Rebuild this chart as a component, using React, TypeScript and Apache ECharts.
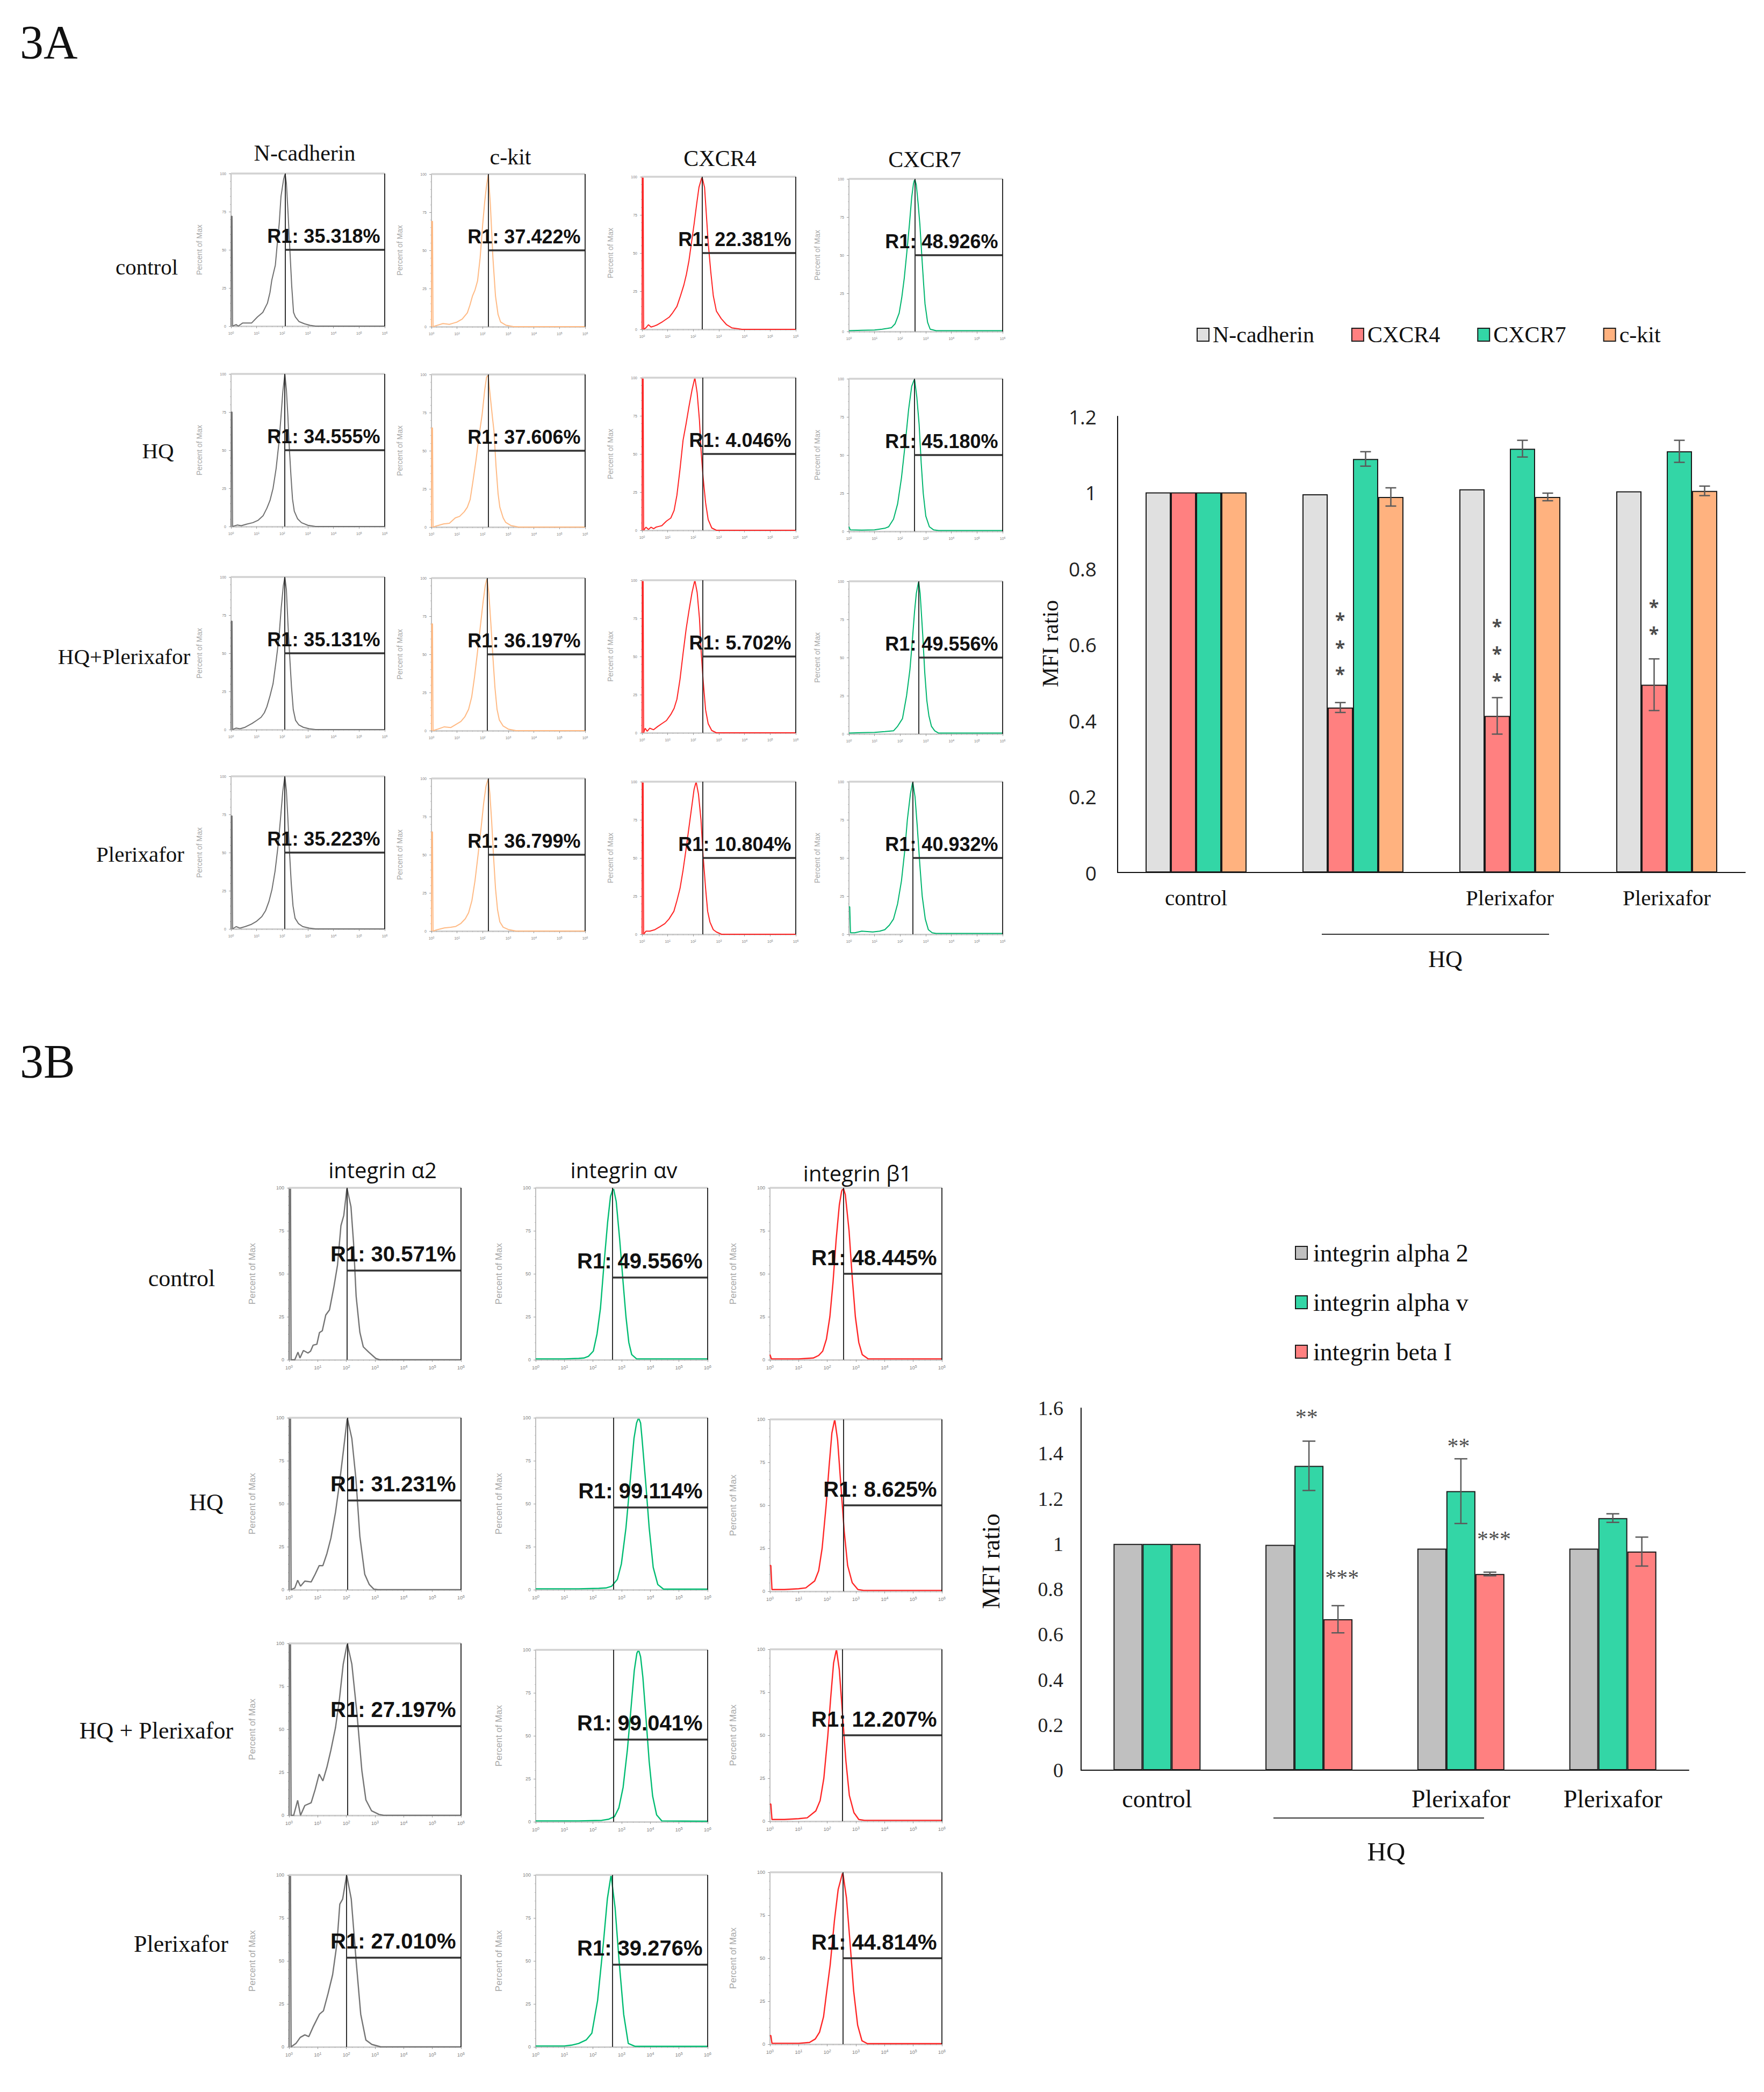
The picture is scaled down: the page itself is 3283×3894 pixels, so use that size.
import React, { useEffect, useRef } from 'react';
import * as echarts from 'echarts';

const PAGE_W = 3283;
const PAGE_H = 3894;

// ======================= DATA : Figure 3A histograms =======================
const markersA = ['N-cadherin', 'c-kit', 'CXCR4', 'CXCR7'];
const conditionsA = ['control', 'HQ', 'HQ+Plerixafor', 'Plerixafor'];

// [log10 decade, percent of max]
const ncadControl = [[0,0],[0.01,72],[0.04,72],[0.06,0],[0.2,1],[0.28,0],[0.45,2],[0.8,2],[1.03,6],[1.24,9],[1.42,15],[1.52,22],[1.59,30],[1.66,35],[1.73,40],[1.8,53],[1.88,67],[1.95,85],[2.05,96],[2.11,100],[2.16,94],[2.23,73],[2.3,49],[2.37,26],[2.44,9],[2.51,6],[2.65,3],[2.87,1.5],[3.08,0.5],[3.3,0],[6,0]];
const ncadHQ = [[0,0],[0.01,75],[0.04,75],[0.06,0],[0.25,1],[0.4,0.5],[0.6,1.5],[0.85,2.5],[1.05,4],[1.25,7],[1.4,12],[1.52,17],[1.64,25],[1.76,38],[1.87,55],[1.95,72],[2.02,88],[2.1,100],[2.16,90],[2.22,72],[2.28,50],[2.34,33],[2.4,18],[2.47,10],[2.6,5],[2.75,2.5],[3.0,0.8],[3.3,0],[6,0]];
const ncadHQP = [[0,0],[0.01,71],[0.04,71],[0.06,0],[0.2,1],[0.35,0.5],[0.55,1.5],[0.82,4],[1.0,6],[1.17,8],[1.3,11],[1.4,15],[1.52,22],[1.64,30],[1.76,45],[1.87,60],[1.96,80],[2.04,94],[2.1,100],[2.16,92],[2.22,70],[2.3,45],[2.36,28],[2.43,13],[2.52,6],[2.65,3],[2.82,1.5],[3.05,0.5],[3.3,0],[6,0]];
const ncadPlx = [[0,0],[0.01,74],[0.04,74],[0.06,0],[0.2,1.5],[0.35,0.5],[0.55,1.5],[0.8,3],[1.0,5],[1.2,8],[1.35,12],[1.48,18],[1.6,26],[1.72,38],[1.84,55],[1.93,72],[2.02,90],[2.1,100],[2.16,91],[2.22,72],[2.29,48],[2.35,30],[2.42,15],[2.5,7],[2.63,3.5],[2.8,1.5],[3.05,0.5],[3.3,0],[6,0]];

const kitControl = [[0,0],[0.01,69],[0.04,69],[0.06,0],[0.25,1],[0.45,2],[0.7,1.5],[0.9,2.5],[1.0,3],[1.2,5],[1.4,9],[1.5,14],[1.6,20],[1.7,24],[1.8,30],[1.9,45],[2.0,67],[2.08,82],[2.14,91],[2.22,100],[2.3,80],[2.4,45],[2.5,20],[2.6,8],[2.7,3],[2.9,1],[3.2,0],[6,0]];
const kitHQ = [[0,0],[0.01,65],[0.04,65],[0.06,0],[0.25,1],[0.47,2],[0.7,2.5],[0.93,6],[1.1,7],[1.28,10],[1.4,13],[1.51,18],[1.62,30],[1.74,44],[1.86,60],[1.98,74],[2.08,90],[2.15,98],[2.21,100],[2.3,85],[2.38,72],[2.44,63],[2.52,40],[2.6,22],[2.67,13],[2.8,6],[2.9,3],[3.1,1],[3.4,0],[6,0]];
const kitHQP = [[0,0],[0.01,70],[0.04,70],[0.06,0],[0.25,1],[0.5,2.5],[0.75,2],[0.95,4],[1.15,6],[1.3,9],[1.45,14],[1.57,22],[1.68,35],[1.8,52],[1.92,70],[2.02,85],[2.1,95],[2.17,100],[2.24,90],[2.32,70],[2.4,48],[2.48,28],[2.56,14],[2.65,7],[2.8,3],[3.0,1],[3.3,0],[6,0]];
const kitPlx = [[0,0],[0.01,65],[0.04,65],[0.06,0],[0.25,1],[0.5,2],[0.75,2.5],[0.95,3],[1.15,5],[1.32,8],[1.45,12],[1.58,20],[1.7,33],[1.82,50],[1.94,68],[2.04,84],[2.13,95],[2.22,100],[2.28,90],[2.35,72],[2.42,50],[2.5,28],[2.58,14],[2.67,6],[2.8,2.5],[3.0,1],[3.3,0],[6,0]];

const cxcr4Control = [[0,0],[0.01,100],[0.04,100],[0.06,0],[0.15,1],[0.25,3],[0.35,1.5],[0.45,2],[0.6,3],[0.8,5],[1.06,8],[1.2,11],[1.36,15],[1.5,22],[1.63,29],[1.73,36],[1.83,45],[1.93,57],[2.03,69],[2.13,82],[2.22,93],[2.34,100],[2.44,93],[2.51,75],[2.58,57],[2.68,38],[2.78,22],[2.9,12],[3.09,7],[3.3,3],[3.5,1],[3.9,0],[6,0]];
const cxcr4HQ = [[0,0],[0.01,100],[0.04,100],[0.06,0],[0.15,2],[0.25,0.5],[0.35,2],[0.45,1],[0.54,2],[0.65,2.5],[0.77,3],[0.95,6],[1.12,8],[1.25,13],[1.36,23],[1.48,40],[1.6,59],[1.72,70],[1.83,81],[1.95,92],[2.06,100],[2.15,90],[2.24,72],[2.3,53],[2.38,35],[2.48,18],[2.58,7],[2.72,1.5],[2.9,0],[6,0]];
const cxcr4HQP = [[0,0],[0.01,100],[0.04,100],[0.06,0],[0.12,3],[0.2,1],[0.3,3],[0.45,2],[0.6,4],[0.77,6],[0.95,8],[1.12,12],[1.25,16],[1.36,22],[1.48,35],[1.6,52],[1.72,68],[1.83,80],[1.95,92],[2.06,100],[2.15,92],[2.24,75],[2.3,55],[2.38,35],[2.48,15],[2.58,6],[2.72,1.5],[2.9,0],[6,0]];
const cxcr4Plx = [[0,0],[0.01,100],[0.04,100],[0.06,0],[0.15,2],[0.3,2],[0.5,3],[0.7,5],[0.89,7],[1.05,10],[1.24,15],[1.36,22],[1.48,30],[1.6,42],[1.71,55],[1.83,70],[1.95,85],[2.03,95],[2.11,100],[2.2,92],[2.3,75],[2.38,52],[2.48,30],[2.56,15],[2.65,8],[2.78,3],[2.9,1.5],[3.1,0],[6,0]];

const cxcr7Control = [[0,0.5],[0.5,0.8],[1.0,1],[1.3,1.5],[1.5,2],[1.66,2.5],[1.8,5],[1.96,12],[2.06,22],[2.16,35],[2.26,52],[2.36,70],[2.45,88],[2.52,97],[2.57,100],[2.63,96],[2.7,84],[2.77,70],[2.85,48],[2.92,30],[2.97,18],[3.07,6],[3.17,1.5],[3.4,0.5],[6,0.5]];
const cxcr7HQ = [[0,3],[0.05,1],[0.5,0.8],[1.0,1],[1.2,1.5],[1.4,2],[1.55,3],[1.74,8],[1.9,18],[2.05,35],[2.2,58],[2.33,80],[2.45,95],[2.56,100],[2.65,88],[2.74,70],[2.82,45],[2.9,25],[3.0,10],[3.14,3],[3.3,1],[3.5,0.5],[6,0.5]];
const cxcr7HQP = [[0,0.5],[0.5,0.8],[1.0,1],[1.4,1.5],[1.74,2],[1.9,5],[2.09,10],[2.25,25],[2.38,42],[2.47,60],[2.56,80],[2.63,92],[2.72,100],[2.78,92],[2.88,65],[2.96,40],[3.04,22],[3.12,12],[3.22,5],[3.35,2],[3.5,0.5],[6,0.5]];
const cxcr7Plx = [[0,18],[0.03,18],[0.06,1],[0.23,1],[0.5,2],[0.93,1.5],[1.2,2],[1.4,3],[1.58,6],[1.74,10],[1.9,20],[2.05,35],[2.18,55],[2.28,75],[2.4,92],[2.49,100],[2.58,90],[2.67,70],[2.77,45],[2.86,25],[2.98,10],[3.1,3],[3.25,1],[3.4,0.5],[6,0.5]];

const histA = [
  [ncadControl, kitControl, cxcr4Control, cxcr7Control],
  [ncadHQ, kitHQ, cxcr4HQ, cxcr7HQ],
  [ncadHQP, kitHQP, cxcr4HQP, cxcr7HQP],
  [ncadPlx, kitPlx, cxcr4Plx, cxcr7Plx],
];
const gateStartA = [[2.11, 2.22, 2.34, 2.57], [2.10, 2.21, 2.37, 2.56], [2.10, 2.17, 2.37, 2.72], [2.10, 2.22, 2.37, 2.49]];
const gateLevelA = [50, 50, 50, 50];
const r1A = [
  ['35.318', '37.422', '22.381', '48.926'],
  ['34.555', '37.606', '4.046', '45.180'],
  ['35.131', '36.197', '5.702', '49.556'],
  ['35.223', '36.799', '10.804', '40.932'],
];

// ======================= DATA : Figure 3A bar chart =======================
const barGroupsA = ['control', 'HQ', 'HQ+Plerixafor', 'Plerixafor'];
const barTickLabelsA = ['control', '', 'Plerixafor', 'Plerixafor'];
const barSeriesA = ['N-cadherin', 'CXCR4', 'CXCR7', 'c-kit'];
const ncadMFI = [1, 0.995, 1.008, 1.003];
const cxcr4MFI = [1, 0.434, 0.412, 0.494];
const cxcr7MFI = [1, 1.088, 1.115, 1.108];
const kitMFI = [1, 0.988, 0.988, 1.004];
const ncadErr = [0, 0, 0, 0];
const cxcr4Err = [0, 0.013, 0.048, 0.068];
const cxcr7Err = [0, 0.019, 0.022, 0.029];
const kitErr = [0, 0.024, 0.010, 0.0125];
const valsA = [ncadMFI, cxcr4MFI, cxcr7MFI, kitMFI];
const errsA = [ncadErr, cxcr4Err, cxcr7Err, kitErr];
// asterisks above CXCR4 bars: [group index, y value]
const starsA = [[1, 0.676], [1, 0.603], [1, 0.533], [2, 0.659], [2, 0.587], [2, 0.516], [3, 0.710], [3, 0.639]];

// ======================= DATA : Figure 3B histograms =======================
const markersB = ['integrin α2', 'integrin αv', 'integrin β1'];
const conditionsB = ['control', 'HQ', 'HQ + Plerixafor', 'Plerixafor'];

const a2Control = [[0,0],[0.01,100],[0.05,100],[0.07,0],[0.2,0],[0.31,4.4],[0.38,1],[0.5,5.4],[0.66,3.9],[0.75,5],[0.84,8.5],[0.97,9],[1.06,15.8],[1.16,16.9],[1.28,26],[1.41,29],[1.56,42],[1.69,55],[1.81,78],[1.91,84],[2.02,100],[2.16,89],[2.25,68],[2.34,37],[2.47,16],[2.59,7.5],[2.78,4.4],[3.03,0.7],[3.16,0],[6,0]];
const a2HQ = [[0,0],[0.01,100],[0.05,100],[0.07,0],[0.2,1],[0.3,5.5],[0.4,2],[0.55,5],[0.77,4.5],[0.91,9],[1.05,14],[1.18,14],[1.32,21],[1.46,30],[1.62,45],[1.76,62],[1.89,80],[2.03,100],[2.19,88],[2.33,65],[2.47,31],[2.64,9],[2.8,3],[2.96,0.3],[3.1,0],[6,0]];
const a2HQP = [[0,0],[0.01,100],[0.05,100],[0.07,0],[0.16,0],[0.3,8.7],[0.4,0],[0.55,5.7],[0.77,7.3],[0.91,15],[1.05,24],[1.18,20],[1.32,28],[1.46,38],[1.62,51],[1.76,68],[1.89,88],[2.03,100],[2.19,88],[2.37,59],[2.54,26],[2.68,9],[2.88,2.6],[3.14,0.5],[3.3,0],[6,0]];
const a2Plx = [[0,0],[0.01,100],[0.05,100],[0.07,0],[0.24,2],[0.39,5.5],[0.55,7],[0.69,6],[0.85,12],[1.06,19],[1.2,21],[1.36,31],[1.52,42],[1.67,60],[1.77,83],[1.87,86],[2.01,100],[2.17,86],[2.34,50],[2.5,19],[2.68,4],[2.89,1.4],[3.2,0],[6,0]];

const avControl = [[0,0.5],[1.0,0.5],[1.5,0.8],[1.68,1],[1.84,2],[2.01,5],[2.14,15],[2.26,30],[2.38,55],[2.51,80],[2.61,95],[2.71,100],[2.81,92],[2.93,70],[3.05,45],[3.15,25],[3.25,10],[3.35,3],[3.52,0.5],[6,0.5]];
const avHQ = [[0,0.5],[1.5,0.5],[2.2,0.8],[2.45,1],[2.65,2],[2.85,6],[2.99,15],[3.15,36],[3.29,62],[3.43,88],[3.52,97],[3.59,100],[3.66,97],[3.71,88],[3.84,62],[3.96,36],[4.1,13],[4.26,3],[4.46,0.3],[6,0.3]];
const avHQP = [[0,0.5],[1.5,0.5],[2.3,0.8],[2.55,1.5],[2.75,3],[2.9,8],[3.05,20],[3.2,42],[3.32,65],[3.44,88],[3.53,98],[3.59,100],[3.66,96],[3.74,84],[3.85,60],[3.96,35],[4.08,15],[4.22,4],[4.4,0.5],[6,0.3]];
const avPlx = [[0,0.5],[1.0,0.5],[1.25,1],[1.5,2],[1.76,4],[1.96,8],[2.16,27],[2.36,60],[2.5,86],[2.63,100],[2.77,81],[2.91,50],[3.07,19],[3.23,2],[3.47,0.3],[6,0.3]];

const b1Control = [[0,3],[0.05,0.5],[1.0,0.5],[1.3,0.8],[1.51,1],[1.7,2.5],[1.84,5],[1.97,12],[2.09,25],[2.2,45],[2.31,70],[2.42,90],[2.5,98],[2.56,100],[2.63,96],[2.76,75],[2.87,48],[2.98,25],[3.1,10],[3.22,3],[3.43,0.5],[6,0.5]];
const b1HQ = [[0,15],[0.03,15],[0.07,1],[0.5,1],[1.0,1.5],[1.25,2],[1.56,6],[1.7,12],[1.82,25],[1.96,50],[2.06,72],[2.16,92],[2.26,100],[2.36,88],[2.46,65],[2.59,35],[2.71,15],[2.87,5],[3.07,1],[3.27,0.5],[6,0.5]];
const b1HQP = [[0,10],[0.03,10],[0.07,1],[0.5,1],[1.0,1.5],[1.3,2],[1.6,6],[1.75,12],[1.88,25],[2.02,50],[2.12,72],[2.22,92],[2.32,100],[2.42,88],[2.52,65],[2.65,35],[2.77,15],[2.93,5],[3.1,1],[3.3,0.5],[6,0.5]];
const b1Plx = [[0,5],[0.03,5],[0.07,0.5],[1.0,0.5],[1.38,1],[1.58,3],[1.73,7],[1.87,16],[1.96,28],[2.1,46],[2.25,72],[2.38,90],[2.54,100],[2.67,85],[2.79,60],[2.92,31],[3.06,11],[3.21,2],[3.4,0.3],[6,0.3]];

const histB = [
  [a2Control, avControl, b1Control],
  [a2HQ, avHQ, b1HQ],
  [a2HQP, avHQP, b1HQP],
  [a2Plx, avPlx, b1Plx],
];
const gateStartB = [[2.02, 2.68, 2.56], [2.03, 2.71, 2.57], [2.03, 2.71, 2.53], [2.01, 2.67, 2.54]];
const gateLevelB = [52, 48, 50];
const r1B = [
  ['30.571', '49.556', '48.445'],
  ['31.231', '99.114', '8.625'],
  ['27.197', '99.041', '12.207'],
  ['27.010', '39.276', '44.814'],
];

// ======================= DATA : Figure 3B bar chart =======================
const barGroupsB = ['control', 'HQ', 'HQ + Plerixafor', 'Plerixafor'];
const barTickLabelsB = ['control', '', 'Plerixafor', 'Plerixafor'];
const barSeriesB = ['integrin alpha 2', 'integrin alpha v', 'integrin beta I'];
const alpha2MFI = [1, 0.996, 0.979, 0.979];
const alphaVMFI = [1, 1.345, 1.233, 1.114];
const beta1MFI = [1, 0.667, 0.867, 0.966];
const alpha2Err = [0, 0, 0, 0];
const alphaVErr = [0, 0.109, 0.143, 0.019];
const beta1Err = [0, 0.06, 0.008, 0.064];
const valsB = [alpha2MFI, alphaVMFI, beta1MFI];
const errsB = [alpha2Err, alphaVErr, beta1Err];
const starsBGreen = [[1, 1.577], [2, 1.449]];
const starsBRed = [[1, 0.867], [2, 1.038]];

// ======================= LAYOUT / STYLE =======================
const HIST_A_LEFT = [430, 803, 1195, 1580];
const HIST_A_TOP = [[323, 324, 329, 333], [696, 697, 703, 705], [1074, 1076, 1080, 1082], [1445, 1449, 1455, 1455]];
const HIST_A_W = 286;
const HIST_A_H = 284;
const HIST_B_LEFT = [538, 997, 1433];
const HIST_B_TOP = [[2211, 2211, 2211], [2639, 2639, 2642], [3059, 3071, 3070], [3490, 3490, 3485]];
const HIST_B_W = 320;
const HIST_B_H = 320;

const HIST_COLORS_A = ['#707070', '#FFBA84', '#FF2424', '#00B56E'];
const HIST_COLORS_B = ['#747474', '#00BC72', '#FF2626'];
const BAR_COLORS_A = ['#E0E0E0', '#FF8080', '#33D6A6', '#FFB27F'];
const BAR_COLORS_B = ['#C0C0C0', '#33D6A6', '#FF8080'];

const styleA = { lw: 2, tick: 7, nameFont: 14, nameGap: 52, r1Font: 36, r1Off: [-8, -7], xMargin: 9, yMargin: 9 };
const styleB = { lw: 2.4, tick: 9, nameFont: 17, nameGap: 60, r1Font: 40, r1Off: [-9, -10], xMargin: 9, yMargin: 9 };

const SERIF = 'Liberation Serif';
const SANS = 'Liberation Sans';
const CAL = 'Open Sans';

function buildOption() {
  const grid: any[] = [];
  const xAxis: any[] = [];
  const yAxis: any[] = [];
  const series: any[] = [];
  const elements: any[] = [];

  const addHist = (st: any, left: number, top: number, w: number, h: number, data: number[][], color: string, gx: number, gy: number, r1: string) => {
    const i = grid.length;
    grid.push({ left, top, width: w, height: h });
    xAxis.push({
      gridIndex: i, type: 'value', min: 0, max: 6, interval: 1,
      axisLine: { show: true, onZero: false, lineStyle: { color: '#cdcdcd', width: 3 } },
      axisTick: { show: true, length: 4, lineStyle: { color: '#9a9a9a', width: 1 } },
      minorTick: { show: true, splitNumber: 5, length: 2, lineStyle: { color: '#b5b5b5', width: 1 } },
      splitLine: { show: false },
      axisLabel: {
        margin: st.xMargin,
        formatter: (v: number) => `{a|10}{b|${v}}`,
        rich: {
          a: { fontSize: st.tick, color: '#808080', fontFamily: SANS },
          b: { fontSize: st.tick - 2, color: '#808080', fontFamily: SANS, padding: [0, 0, Math.round(st.tick / 2), 0] },
        },
      },
    });
    yAxis.push({
      gridIndex: i, type: 'value', min: 0, max: 100, interval: 25,
      name: 'Percent of Max', nameLocation: 'middle', nameGap: st.nameGap,
      nameTextStyle: { fontSize: st.nameFont, color: '#a8a8a8', fontFamily: SANS },
      axisLine: { show: true, lineStyle: { color: '#a8a8a8', width: 1.5 } },
      axisTick: { show: true, length: 4, lineStyle: { color: '#9a9a9a', width: 1 } },
      minorTick: { show: true, splitNumber: 5, length: 2, lineStyle: { color: '#b5b5b5', width: 1 } },
      splitLine: { show: false },
      axisLabel: { margin: st.yMargin, fontSize: st.tick, color: '#808080', fontFamily: SANS },
    });
    series.push({
      type: 'line', xAxisIndex: i, yAxisIndex: i, data, symbol: 'none', silent: true, z: 3,
      lineStyle: { color, width: st.lw },
      markLine: {
        silent: true, symbol: ['none', 'none'], label: { show: false }, z: 4,
        lineStyle: { color: '#1a1a1a', width: 1.8, type: 'solid' },
        emphasis: { disabled: true },
        data: [
          [{ coord: [0, 100], lineStyle: { color: '#d2d2d2', width: 3.5, type: 'solid' } }, { coord: [6, 100] }],
          [{ coord: [gx, 0] }, { coord: [gx, 100] }],
          [{ coord: [gx, gy], lineStyle: { color: '#333333', width: 3.5, type: 'solid' } }, { coord: [6, gy] }],
          [{ coord: [6, 0] }, { coord: [6, 100] }],
        ],
      },
      markPoint: {
        silent: true, symbol: 'rect', symbolSize: 1, itemStyle: { color: 'rgba(0,0,0,0)' }, z: 6,
        data: [{
          coord: [6, gy],
          label: {
            show: true, formatter: `R1: ${r1}%`, position: [0, 0], align: 'right', verticalAlign: 'bottom',
            offset: st.r1Off, fontSize: st.r1Font, fontWeight: 'bold', fontFamily: SANS, color: '#111',
          },
        }],
      },
    });
  };

  // ---- 3A histograms
  for (let r = 0; r < 4; r++) {
    for (let c = 0; c < 4; c++) {
      addHist(styleA, HIST_A_LEFT[c], HIST_A_TOP[r][c], HIST_A_W, HIST_A_H, histA[r][c], HIST_COLORS_A[c], gateStartA[r][c], gateLevelA[c], r1A[r][c]);
    }
  }
  // ---- 3B histograms
  for (let r = 0; r < 4; r++) {
    for (let c = 0; c < 3; c++) {
      addHist(styleB, HIST_B_LEFT[c], HIST_B_TOP[r][c], HIST_B_W, HIST_B_H, histB[r][c], HIST_COLORS_B[c], gateStartB[r][c], gateLevelB[c], r1B[r][c]);
    }
  }

  const errRender = (offset: number, cap: number) => (params: any, api: any) => {
    const c = api.value(0);
    const v = api.value(1);
    const e = api.value(2);
    const pTop = api.coord([c, v + e]);
    const pBot = api.coord([c, v - e]);
    const x = pTop[0] + offset;
    const style = { stroke: '#5a5a5a', lineWidth: 2.5 };
    return {
      type: 'group',
      children: [
        { type: 'line', shape: { x1: x, y1: pTop[1], x2: x, y2: pBot[1] }, style },
        { type: 'line', shape: { x1: x - cap, y1: pTop[1], x2: x + cap, y2: pTop[1] }, style },
        { type: 'line', shape: { x1: x - cap, y1: pBot[1], x2: x + cap, y2: pBot[1] }, style },
      ],
    };
  };

  const addBarChart = (cfg: any) => {
    const gi = grid.length;
    grid.push({ left: cfg.left, top: cfg.top, width: cfg.width, height: cfg.height });
    xAxis.push({
      gridIndex: gi, type: 'category', data: cfg.groups,
      axisLine: { show: true, lineStyle: { color: '#111', width: 2 } },
      axisTick: { show: false },
      axisLabel: {
        interval: 0, margin: cfg.xMargin, fontSize: cfg.xFont, fontFamily: SERIF, color: '#111',
        formatter: (v: string, idx: number) => cfg.tickLabels[idx],
      },
    });
    yAxis.push({
      gridIndex: gi, type: 'value', min: 0, max: cfg.max, interval: cfg.interval,
      axisLine: { show: true, lineStyle: { color: '#111', width: 2 } },
      axisTick: { show: false }, splitLine: { show: false },
      axisLabel: { margin: cfg.yMargin, fontSize: cfg.yFont, fontFamily: cfg.yFamily, color: '#222' },
    });
    const n = cfg.names.length;
    cfg.names.forEach((name: string, i: number) => {
      series.push({
        name, type: 'bar', xAxisIndex: gi, yAxisIndex: gi, data: cfg.vals[i], silent: true,
        barWidth: cfg.barWidth, barGap: '0%',
        itemStyle: { color: cfg.colors[i], borderColor: '#1a1a1a', borderWidth: 2 },
      });
    });
    cfg.names.forEach((name: string, i: number) => {
      const offset = (i - (n - 1) / 2) * cfg.barWidth;
      const data = cfg.vals[i].map((v: number, k: number) => [k, v, cfg.errs[i][k]]).filter((d: number[]) => d[2] > 0);
      series.push({
        type: 'custom', xAxisIndex: gi, yAxisIndex: gi, silent: true, z: 5,
        dimensions: ['x', 'y', 'e'], encode: { x: 0, y: 1 },
        data, renderItem: errRender(offset, cfg.cap),
      });
    });
    return gi;
  };

  // ---- 3A bar chart
  const gA = addBarChart({
    left: 2080, top: 775, width: 1168, height: 849, groups: barGroupsA, tickLabels: barTickLabelsA,
    names: barSeriesA, vals: valsA, errs: errsA, colors: BAR_COLORS_A, barWidth: 47, cap: 10,
    max: 1.2, interval: 0.2, xMargin: 26, xFont: 41, yMargin: 39, yFont: 37, yFamily: CAL,
  });
  series.push({
    type: 'scatter', xAxisIndex: gA, yAxisIndex: gA, data: starsA, symbolSize: 1, silent: true, z: 6,
    itemStyle: { color: 'rgba(0,0,0,0)' },
    label: { show: true, formatter: '*', position: [0, 0], align: 'center', verticalAlign: 'middle', offset: [-23.5, 8], fontSize: 34, fontWeight: 'bold', fontFamily: CAL, color: '#1a1a1a' },
  });

  // ---- 3B bar chart
  const gB = addBarChart({
    left: 2012, top: 2621, width: 1131, height: 674, groups: barGroupsB, tickLabels: barTickLabelsB,
    names: barSeriesB, vals: valsB, errs: errsB, colors: BAR_COLORS_B, barWidth: 54, cap: 12,
    max: 1.6, interval: 0.2, xMargin: 30, xFont: 46, yMargin: 33, yFont: 38, yFamily: SERIF,
  });
  series.push({
    type: 'scatter', xAxisIndex: gB, yAxisIndex: gB, data: starsBGreen, symbolSize: 1, silent: true, z: 6,
    itemStyle: { color: 'rgba(0,0,0,0)' },
    label: { show: true, formatter: '**', position: [0, 0], align: 'center', verticalAlign: 'middle', offset: [-4, 8], fontSize: 42, fontFamily: SERIF, color: '#1a1a1a' },
  });
  series.push({
    type: 'scatter', xAxisIndex: gB, yAxisIndex: gB, data: starsBRed, symbolSize: 1, silent: true, z: 6,
    itemStyle: { color: 'rgba(0,0,0,0)' },
    label: { show: true, formatter: '***', position: [0, 0], align: 'center', verticalAlign: 'middle', offset: [62, 8], fontSize: 42, fontFamily: SERIF, color: '#1a1a1a' },
  });

  // ---- texts
  const txt = (x: number, y: number, text: string, size: number, family: string, extra: any = {}) => ({
    type: 'text', x, y, silent: true, ...extra,
    style: { text, fontSize: size, fontFamily: family, fill: '#111', align: 'center', verticalAlign: 'middle', ...(extra.style || {}) },
  });
  elements.push(txt(37, 78, '3A', 88, SERIF, { style: { align: 'left' } }));
  elements.push(txt(37, 1975, '3B', 88, SERIF, { style: { align: 'left' } }));

  const COL_TITLE_A_POS = [[567, 285], [950, 292], [1340, 295], [1721, 297]];
  const ROW_LABEL_A_POS = [[273, 497], [294, 839], [231, 1222], [261, 1590]];
  const COL_TITLE_B_POS = [[712, 2177], [1161, 2177], [1596, 2183]];
  const ROW_LABEL_B_POS = [[338, 2379], [384, 2796], [291, 3221], [337, 3618]];
  markersA.forEach((m, i) => elements.push(txt(COL_TITLE_A_POS[i][0], COL_TITLE_A_POS[i][1], m, 42, SERIF)));
  conditionsA.forEach((m, i) => elements.push(txt(ROW_LABEL_A_POS[i][0], ROW_LABEL_A_POS[i][1], m, 41, SERIF)));
  markersB.forEach((m, i) => elements.push(txt(COL_TITLE_B_POS[i][0], COL_TITLE_B_POS[i][1], m, 40, CAL)));
  conditionsB.forEach((m, i) => elements.push(txt(ROW_LABEL_B_POS[i][0], ROW_LABEL_B_POS[i][1], m, 44, SERIF)));

  elements.push(txt(1955, 1198, 'MFI ratio', 42, SERIF, { rotation: Math.PI / 2 }));
  elements.push(txt(1844, 2906, 'MFI ratio', 46, SERIF, { rotation: Math.PI / 2 }));

  elements.push({ type: 'line', silent: true, shape: { x1: 2460, y1: 1739, x2: 2883, y2: 1739 }, style: { stroke: '#333', lineWidth: 2 } });
  elements.push(txt(2690, 1785, 'HQ', 44, SERIF));
  elements.push({ type: 'line', silent: true, shape: { x1: 2370, y1: 3384, x2: 2762, y2: 3384 }, style: { stroke: '#333', lineWidth: 2 } });
  elements.push(txt(2580, 3446, 'HQ', 49, SERIF));

  return {
    animation: false,
    backgroundColor: '#ffffff',
    grid, xAxis, yAxis, series,
    legend: [
      {
        data: barSeriesA, left: 2227, top: 602, orient: 'horizontal', padding: 0,
        itemWidth: 22, itemHeight: 24, itemGap: 69, icon: 'rect', selectedMode: false,
        textStyle: { fontSize: 42, lineHeight: 42, fontFamily: SERIF, color: '#111', padding: [0, 0, 0, 2] },
      },
      {
        data: barSeriesB, left: 2410, top: 2309, orient: 'vertical', padding: 0,
        itemWidth: 22, itemHeight: 24, itemGap: 46, icon: 'rect', selectedMode: false,
        textStyle: { fontSize: 46, lineHeight: 46, fontFamily: SERIF, color: '#111', padding: [0, 0, 0, 6] },
      },
    ],
    graphic: { elements },
  };
}

export default function App() {
  const ref = useRef<HTMLDivElement>(null);
  useEffect(() => {
    if (!ref.current) return;
    const chart = echarts.init(ref.current, null, { renderer: 'svg', width: PAGE_W, height: PAGE_H });
    chart.setOption(buildOption() as any);
    return () => chart.dispose();
  }, []);
  return (
    <div
      ref={ref}
      style={{ position: 'absolute', left: 0, top: 0, width: PAGE_W, height: PAGE_H, background: '#fff' }}
    />
  );
}
